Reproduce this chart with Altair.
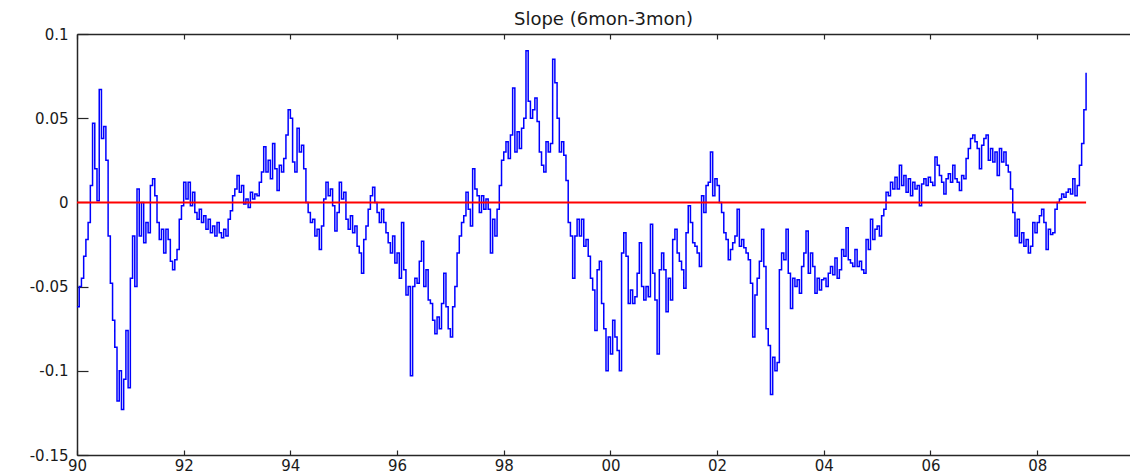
import altair as alt
import pandas as pd

# Semi-monthly readings of the slope (6mon - 3mon), one list per year
slope_1990 = [-0.062, -0.05, -0.045, -0.032, -0.022, -0.012, 0.01, 0.047, 0.02, 0.001, 0.067, 0.038,
              0.045, 0.025, -0.02, -0.048, -0.07, -0.086, -0.118, -0.1, -0.123, -0.105, -0.076, -0.11]
slope_1991 = [-0.045, -0.02, -0.05, 0.008, -0.02, 0.0, -0.024, -0.012, -0.018, 0.01, 0.014, 0.004,
              -0.012, -0.022, -0.016, -0.03, -0.016, -0.022, -0.035, -0.04, -0.034, -0.028, -0.01, -0.002]
slope_1992 = [0.012, 0.002, 0.012, -0.002, 0.006, -0.006, -0.01, -0.004, -0.012, -0.008, -0.016, -0.01,
              -0.018, -0.014, -0.02, -0.012, -0.018, -0.021, -0.016, -0.02, -0.01, -0.005, 0.004, 0.008]
slope_1993 = [0.016, 0.006, 0.01, -0.001, 0.002, -0.003, 0.006, 0.002, 0.005, 0.004, 0.012, 0.018,
              0.033, 0.018, 0.025, 0.014, 0.035, 0.02, 0.007, 0.022, 0.018, 0.026, 0.04, 0.055]
slope_1994 = [0.05, 0.024, 0.018, 0.044, 0.03, 0.034, 0.02, 0.0, -0.006, -0.012, -0.01, -0.02,
              -0.016, -0.028, -0.014, 0.002, 0.012, 0.004, 0.008, -0.002, -0.017, -0.006, 0.012, 0.002]
slope_1995 = [0.006, -0.01, -0.016, -0.008, -0.018, -0.014, -0.026, -0.03, -0.042, -0.022, -0.014, -0.004,
              0.004, 0.009, 0.0, -0.006, -0.012, -0.004, -0.012, -0.018, -0.024, -0.03, -0.02, -0.036]
slope_1996 = [-0.03, -0.045, -0.012, -0.04, -0.055, -0.05, -0.103, -0.05, -0.045, -0.048, -0.035, -0.023,
              -0.05, -0.04, -0.058, -0.06, -0.07, -0.078, -0.068, -0.075, -0.06, -0.042, -0.062, -0.075]
slope_1997 = [-0.08, -0.062, -0.05, -0.03, -0.02, -0.012, -0.008, 0.006, -0.004, -0.014, 0.02, 0.008,
              0.004, -0.006, 0.004, -0.004, 0.002, -0.004, -0.03, -0.01, -0.02, -0.004, 0.01, 0.025]
slope_1998 = [0.03, 0.036, 0.026, 0.04, 0.068, 0.03, 0.042, 0.032, 0.044, 0.05, 0.09, 0.06,
              0.05, 0.055, 0.062, 0.048, 0.03, 0.022, 0.018, 0.036, 0.03, 0.035, 0.085, 0.071]
slope_1999 = [0.05, 0.03, 0.036, 0.028, 0.013, -0.012, -0.02, -0.045, -0.02, -0.01, -0.02, -0.01,
              -0.026, -0.022, -0.032, -0.045, -0.052, -0.076, -0.04, -0.035, -0.06, -0.075, -0.1, -0.08]
slope_2000 = [-0.09, -0.07, -0.08, -0.088, -0.1, -0.03, -0.018, -0.032, -0.06, -0.052, -0.06, -0.056,
              -0.042, -0.024, -0.05, -0.058, -0.05, -0.056, -0.013, -0.042, -0.058, -0.09, -0.04, -0.03]
slope_2001 = [-0.04, -0.065, -0.045, -0.058, -0.022, -0.016, -0.03, -0.035, -0.04, -0.051, -0.018, -0.002,
              -0.012, -0.024, -0.026, -0.03, -0.038, 0.004, -0.006, 0.01, 0.012, 0.03, 0.004, 0.014]
slope_2002 = [0.01, 0.0, -0.006, -0.018, -0.022, -0.034, -0.028, -0.024, -0.02, -0.004, -0.026, -0.022,
              -0.027, -0.03, -0.034, -0.048, -0.08, -0.055, -0.045, -0.035, -0.016, -0.038, -0.075, -0.085]
slope_2003 = [-0.114, -0.092, -0.1, -0.095, -0.04, -0.03, -0.034, -0.016, -0.042, -0.063, -0.045, -0.05,
              -0.046, -0.054, -0.038, -0.03, -0.017, -0.042, -0.03, -0.038, -0.054, -0.045, -0.052, -0.046]
slope_2004 = [-0.045, -0.05, -0.042, -0.038, -0.043, -0.033, -0.045, -0.04, -0.028, -0.032, -0.015, -0.034,
              -0.036, -0.038, -0.028, -0.038, -0.035, -0.04, -0.042, -0.022, -0.028, -0.01, -0.022, -0.016]
slope_2005 = [-0.014, -0.02, -0.008, -0.004, 0.006, 0.004, 0.012, 0.008, 0.015, 0.008, 0.022, 0.01,
              0.016, 0.006, 0.014, 0.004, 0.012, 0.008, 0.01, -0.002, 0.011, 0.014, 0.01, 0.015]
slope_2006 = [0.012, 0.01, 0.027, 0.022, 0.016, 0.012, 0.005, 0.014, 0.017, 0.012, 0.022, 0.014,
              0.012, 0.007, 0.016, 0.014, 0.026, 0.032, 0.038, 0.04, 0.036, 0.032, 0.02, 0.034]
slope_2007 = [0.038, 0.04, 0.025, 0.032, 0.024, 0.03, 0.016, 0.032, 0.024, 0.03, 0.022, 0.018,
              0.008, -0.006, -0.02, -0.01, -0.024, -0.018, -0.026, -0.022, -0.03, -0.026, -0.012, -0.018]
slope_2008 = [-0.012, -0.008, -0.004, -0.012, -0.028, -0.016, -0.019, -0.018, -0.004, 0.0, 0.002, 0.005,
              0.003, 0.006, 0.008, 0.005, 0.014, 0.004, 0.01, 0.022, 0.035, 0.055, 0.077]

years = list(range(1990, 2009))
yearly = [slope_1990, slope_1991, slope_1992, slope_1993, slope_1994, slope_1995, slope_1996,
          slope_1997, slope_1998, slope_1999, slope_2000, slope_2001, slope_2002, slope_2003,
          slope_2004, slope_2005, slope_2006, slope_2007, slope_2008]

x_ticks = [1990, 1992, 1994, 1996, 1998, 2000, 2002, 2004, 2006, 2008]
y_ticks = [-0.15, -0.1, -0.05, 0, 0.05, 0.1]
x_domain = [1990, 2009.74]
y_domain = [-0.15, 0.1]
title_text = "Slope (6mon-3mon)"

rows = []
for yr, vals in zip(years, yearly):
    for k, v in enumerate(vals):
        rows.append({"t": yr + k / 24.0, "slope": v})
df = pd.DataFrame(rows)
zero_df = pd.DataFrame({"t": [df["t"].min(), df["t"].max()], "slope": [0.0, 0.0]})

PLOT_W = 1053
PLOT_H = 421
FONT = "DejaVu Sans"
AX = "#262626"

x_scale = alt.Scale(domain=x_domain, nice=False, zero=False)
y_scale = alt.Scale(domain=y_domain, nice=False, zero=False)

blue = alt.Chart(df).mark_line(color="#0000FF", strokeWidth=1.5, interpolate="step-after").encode(
    x=alt.X("t:Q", scale=x_scale, axis=alt.Axis(
        orient="bottom", values=x_ticks, labelExpr="substring('' + datum.value, 2, 4)",
        ticks=False, domain=True, domainColor=AX, domainWidth=1.5, grid=False, title=None,
        labelFont=FONT, labelFontSize=15, labelColor="#1a1a1a", labelPadding=3,
        labelFlush=False, labelOverlap=False, labelBound=False)),
    y=alt.Y("slope:Q", scale=y_scale, axis=alt.Axis(
        orient="left", values=y_ticks, labelExpr="'' + datum.value",
        ticks=False, domain=True, domainColor=AX, domainWidth=1.5, grid=False, title=None,
        labelFont=FONT, labelFontSize=15, labelColor="#1a1a1a", labelPadding=9,
        labelFlush=False, labelOverlap=False, labelBound=False)),
)

# invisible layer carrying the top border and its inward ticks
top_frame = alt.Chart(zero_df).mark_line(strokeOpacity=0).encode(
    x=alt.X("t:Q", scale=x_scale, axis=alt.Axis(
        orient="bottom", offset=-PLOT_H, values=x_ticks, labels=False, ticks=True, tickSize=5,
        tickColor=AX, tickWidth=1.2, domain=True, domainColor=AX, domainWidth=1.5,
        grid=False, title=None)),
    y=alt.Y("slope:Q", scale=y_scale, axis=None),
)

red = alt.Chart(zero_df).mark_line(color="#FF0000", strokeWidth=2).encode(
    x=alt.X("t:Q", scale=x_scale, axis=alt.Axis(
        orient="top", offset=-PLOT_H, values=x_ticks, labels=False, ticks=True, tickSize=5,
        tickColor=AX, tickWidth=1.2, domain=False, grid=False, title=None)),
    y=alt.Y("slope:Q", scale=y_scale, axis=alt.Axis(
        orient="right", offset=-PLOT_W, values=y_ticks, labels=False, ticks=True, tickSize=11,
        tickColor=AX, tickWidth=1.2, domain=False, grid=False, title=None)),
)

chart = alt.layer(blue, top_frame, red).resolve_axis(
    x="independent", y="independent"
).properties(
    width=PLOT_W,
    height=PLOT_H,
    title=alt.TitleParams(title_text, font=FONT, fontSize=18, fontWeight="normal",
                          color="#1a1a1a", anchor="middle", frame="group",
                          baseline="alphabetic", offset=3, dy=19),
    padding={"left": 77, "top": 34, "right": 0, "bottom": 18},
    autosize=alt.AutoSizeParams(type="none"),
    background="white",
).configure_view(stroke=None)

chart.save("out.html", embed_options={"renderer": "svg", "actions": False})
